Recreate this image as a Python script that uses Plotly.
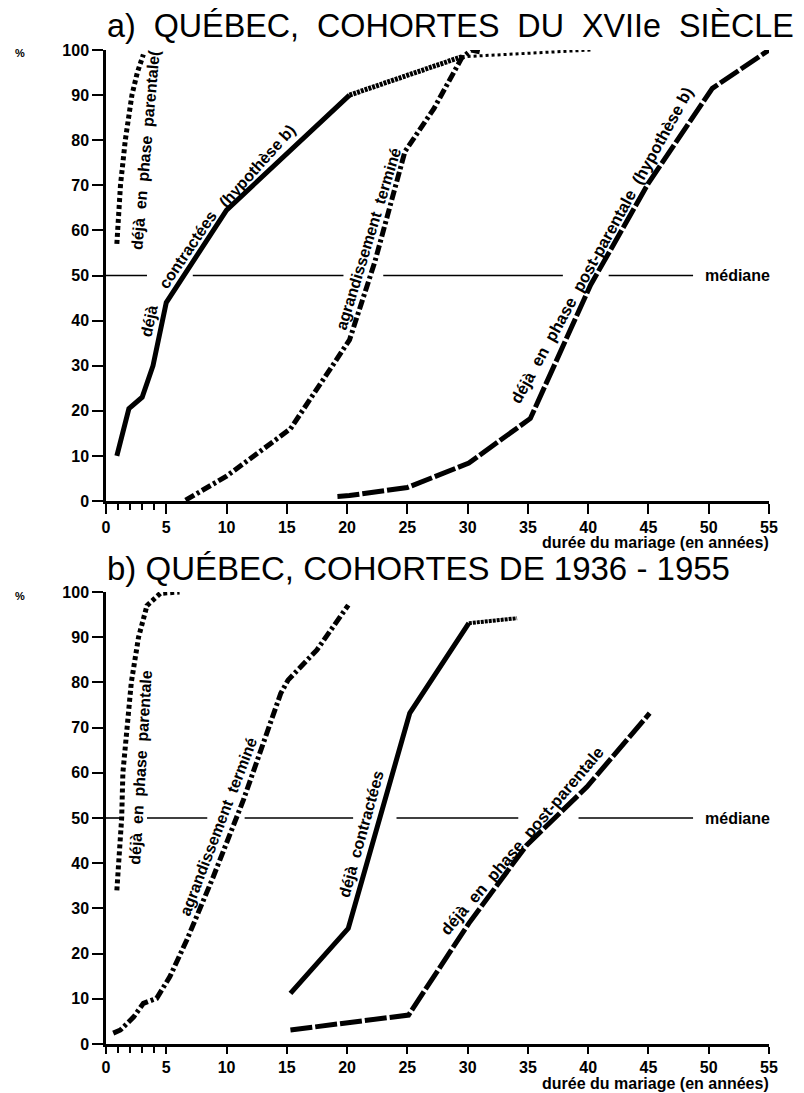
import plotly.graph_objects as go

# ---------------- data : a) Québec, cohortes du XVIIe siècle ----------------
a_parentale_x = [0.9, 0.95, 1.2, 1.6, 2.15, 2.6, 3.1]
a_parentale_y = [57, 60, 70, 80, 90, 95, 99]

a_contractees_x = [0.9, 1.9, 3.0, 3.9, 5.0, 10.0, 20.2, 29.5, 35.4, 40.2]
a_contractees_y = [10, 20.5, 23, 30, 44, 64.5, 90, 98.5, 99.4, 100]

a_agrand_x = [6.6, 10.0, 15.3, 20.2, 22.3, 24.8, 27.2, 29.5, 30.3, 31.0]
a_agrand_y = [0.2, 5.5, 16, 35.7, 53, 77.5, 87, 98.2, 100, 99.6]

a_postpar_x = [19.2, 20.2, 25.0, 30.1, 35.2, 38.2, 40.2, 45.0, 50.3, 55.0]
a_postpar_y = [1.0, 1.2, 3.0, 8.4, 18.3, 36, 47.9, 70.5, 91.5, 100]

a_median_start = [0, 7.2, 23.0, 41.7]
a_median_end = [3.4, 19.7, 37.9, 48.7]

# ---------------- data : b) Québec, cohortes de 1936-1955 ----------------
b_parentale_x = [0.9, 1.15, 1.3, 1.4, 1.7, 2.1, 2.7, 3.4, 4.5, 6.1]
b_parentale_y = [34, 42, 50, 60, 70, 80, 90, 97, 99.7, 100]

b_agrand_x = [0.6, 1.2, 2.3, 3.1, 4.2, 5.3, 6.7, 8.9, 11.4, 13.6, 14.5, 15.1, 17.5, 20.1]
b_agrand_y = [2.4, 3.1, 6, 9, 10.1, 14.9, 23, 37, 54, 70.2, 77.6, 80.5, 87.2, 97.1]

b_contractees_x = [15.3, 20.1, 25.2, 30.1, 34.1]
b_contractees_y = [11.2, 25.6, 73.2, 93.1, 94.2]

b_postpar_x = [15.3, 20.1, 25.1, 30.1, 34.9, 39.9, 45.1]
b_postpar_y = [3.1, 4.8, 6.4, 26.7, 44.0, 56.9, 73.2]

b_median_start = [0, 3.4, 11.5, 24.1, 39.2]
b_median_end = [1.2, 8.4, 20.5, 34.2, 48.7]

MEDIANE = 50
x_ticks = [0, 5, 10, 15, 20, 25, 30, 35, 40, 45, 50, 55]
x_minor = [1, 2, 3, 4]
y_ticks = [0, 10, 20, 30, 40, 50, 60, 70, 80, 90, 100]

FONT = "Liberation Sans, Arial, sans-serif"
PAGE_MARGIN = 8                      # default body margin of the html page
W, H = 804 - PAGE_MARGIN, 1093 - PAGE_MARGIN
SP = "\u00a0 "                        # wide word gap in the titles


def fx(px):
    return (px - PAGE_MARGIN) / W


def fy(py):
    return 1 - (py - PAGE_MARGIN) / H


fig = go.Figure()


def add_line(xs, ys, dash, width, xa, ya):
    fig.add_trace(go.Scatter(x=xs, y=ys, mode="lines",
                             line=dict(color="black", width=width, dash=dash),
                             xaxis=xa, yaxis=ya, hoverinfo="skip", showlegend=False))


def median(starts, ends, xa, ya):
    xs, ys = [], []
    for s, e in zip(starts, ends):
        xs += [s, e, None]
        ys += [MEDIANE, MEDIANE, None]
    add_line(xs, ys, "solid", 1.6, xa, ya)


SHORT = "4px,3px"
DASHDOT = "10px,3px,3px,3px"
LONG = "22px,3px"
FINE = "3px,1px"

# panel a
median(a_median_start, a_median_end, "x", "y")
add_line(a_parentale_x, a_parentale_y, SHORT, 5, "x", "y")
add_line(a_contractees_x[:7], a_contractees_y[:7], "solid", 5, "x", "y")
add_line(a_contractees_x[6:8], a_contractees_y[6:8], FINE, 5, "x", "y")
add_line(a_contractees_x[7:], a_contractees_y[7:], "dot", 3, "x", "y")
add_line(a_agrand_x, a_agrand_y, DASHDOT, 5, "x", "y")
add_line(a_postpar_x, a_postpar_y, LONG, 5, "x", "y")

# panel b
median(b_median_start, b_median_end, "x2", "y2")
add_line(b_parentale_x, b_parentale_y, SHORT, 5, "x2", "y2")
add_line(b_agrand_x, b_agrand_y, DASHDOT, 5, "x2", "y2")
add_line(b_contractees_x[:4], b_contractees_y[:4], "solid", 5, "x2", "y2")
add_line(b_contractees_x[3:], b_contractees_y[3:], FINE, 4, "x2", "y2")
add_line(b_postpar_x, b_postpar_y, LONG, 5, "x2", "y2")


def xaxis_cfg(anchor, ticklen):
    return dict(domain=[fx(106), fx(769)], range=[0, 55], anchor=anchor, automargin=False,
                tickmode="array", tickvals=x_ticks, ticks="outside", ticklen=ticklen,
                tickwidth=2, tickcolor="black", showline=True, linewidth=2.5,
                linecolor="black", showgrid=False, zeroline=False,
                tickfont=dict(family=FONT, size=16, color="black", weight="bold"),
                minor=dict(tickmode="array", tickvals=x_minor, ticks="outside",
                           ticklen=6, tickwidth=1.5, tickcolor="black", showgrid=False))


def yaxis_cfg(anchor, top_px, bot_px):
    return dict(domain=[fy(bot_px), fy(top_px)], range=[0, 100], anchor=anchor,
                automargin=False,
                tickmode="array", tickvals=y_ticks, ticks="outside", ticklen=11,
                tickwidth=2, tickcolor="black", showline=True, linewidth=2.5,
                linecolor="black", showgrid=False, zeroline=False,
                tickfont=dict(family=FONT, size=16, color="black", weight="bold"))


ann = []


def label(text, x, y, angle, xa, ya, size=16, **kw):
    d = dict(text=text, x=x, y=y, xref=xa, yref=ya, textangle=angle, showarrow=False,
             font=dict(family=FONT, size=size, color="black", weight="bold"))
    d.update(kw)
    ann.append(d)


# titles
title_a = SP.join(["a)", "QUÉBEC,", "COHORTES", "DU", "XVIIe", "SIÈCLE"])
title_b = "b) QUÉBEC, COHORTES DE 1936 - 1955"
ann.append(dict(text=title_a, x=fx(105), y=fy(26),
                xref="paper", yref="paper", xanchor="left", yanchor="middle", showarrow=False,
                font=dict(family=FONT, size=32.3, color="black")))
ann.append(dict(text=title_b, x=fx(105), y=fy(568),
                xref="paper", yref="paper", xanchor="left", yanchor="middle", showarrow=False,
                font=dict(family=FONT, size=33, color="black")))
for ypx in (53, 596):
    ann.append(dict(text="%", x=fx(13), y=fy(ypx), xref="paper", yref="paper",
                    xanchor="left", yanchor="middle", showarrow=False,
                    font=dict(family=FONT, size=11, color="black", weight="bold")))
for ypx in (542, 1083):
    ann.append(dict(text="durée du mariage (en années)", x=fx(771), y=fy(ypx),
                    xref="paper", yref="paper", xanchor="right", yanchor="middle",
                    showarrow=False, font=dict(family=FONT, size=16, color="black", weight="bold")))

# panel a labels
label("déjà  en  phase  parentale(", 3.24, 77.8, -85, "x", "y")
label("déjà", 3.6, 40.0, -78, "x", "y")
label("contractées", 6.8, 55.7, -56, "x", "y")
label("(hypothèse b)", 12.6, 74.3, -48, "x", "y")
label("agrandissement  terminé", 21.8, 58.1, -73, "x", "y")
label("déjà  en  phase  post-parentale  (hypothèse b)", 41.1, 56.8, -61, "x", "y", size=16.5)
label("médiane", 49.5, MEDIANE, 0, "x", "y", xanchor="left")

# panel b labels
label("déjà  en  phase  parentale", 2.9, 61.3, -86.5, "x2", "y2")
label("agrandissement  terminé", 9.3, 48.2, -69, "x2", "y2")
label("déjà  contractées", 21.2, 46.5, -74.5, "x2", "y2")
label("déjà  en  phase  post-parentale", 34.45, 45.0, -49.5, "x2", "y2", size=16.5)
label("médiane", 49.5, MEDIANE, 0, "x2", "y2", xanchor="left")

fig.update_layout(
    width=W, height=H, margin=dict(l=0, r=0, t=0, b=0, autoexpand=False),
    paper_bgcolor="white", plot_bgcolor="white", showlegend=False,
    xaxis=xaxis_cfg("y", 10), yaxis=yaxis_cfg("x", 50, 501),
    xaxis2=xaxis_cfg("y2", 7), yaxis2=yaxis_cfg("x2", 592, 1044),
    annotations=ann,
)

fig.write_html("out.html")
